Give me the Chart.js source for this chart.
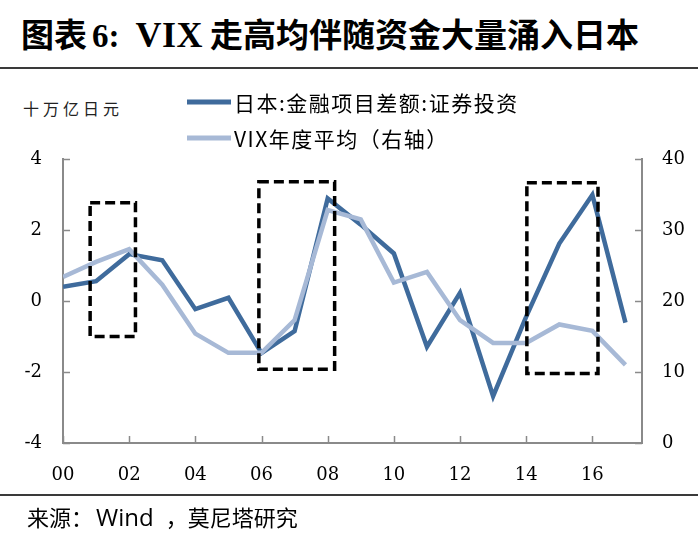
<!DOCTYPE html>
<html>
<head>
<meta charset="utf-8">
<script src="https://cdn.jsdelivr.net/npm/chart.js@4"></script>
<style>
    body { margin: 0; background: #fff; }
    #wrap { position: relative; width: 698px; height: 537px; overflow: hidden; background: #fff; }
    #chart { position: absolute; left: 0; top: 0; }
    .title {
        position: absolute; left: 21px; top: 9px; line-height: 40px;
        font: bold 33px "Noto Sans CJK SC", sans-serif;
        color: #000; white-space: nowrap;
    }
    .title .lat { font-family: "Liberation Serif", serif; }
    .rule { position: absolute; left: 0; width: 698px; height: 2px; background: #3a3a3a; }
    .unit {
        position: absolute; left: 23px; top: 96px;
        font: 16px "Noto Sans CJK SC", sans-serif; letter-spacing: 4px; color: #222;
    }
    .source {
        position: absolute; left: 27px; top: 500px; line-height: 30px;
        font: 22px "Noto Sans CJK SC", sans-serif; color: #000; white-space: nowrap;
    }
    .source .en { font-family: "Open Sans", "Liberation Sans", sans-serif; font-size: 24px; margin-left: 3px; }
</style>
</head>
<body>
<div id="wrap">
    <div class="title">图表<span class="lat" style="margin-left:5px">6:</span><span class="lat" style="margin-left:16px;font-size:36px;letter-spacing:0.5px">VIX</span><span style="margin-left:7px">走高均伴随资金大量涌入日本</span></div>
    <div class="rule" style="top:67px"></div>
    <div class="unit">十万亿日元</div>
    <canvas id="chart" width="698" height="537"></canvas>
    <div class="rule" style="top:494px"></div>
    <div class="source">来源：<span class="en">Wind</span><span style="margin-left:12px">，</span>莫尼塔研究</div>
</div>
<script>
// ================================
// Data
// ================================
const years = [2000, 2001, 2002, 2003, 2004, 2005, 2006, 2007, 2008,
    2009, 2010, 2011, 2012, 2013, 2014, 2015, 2016, 2017];
// 日本:金融项目差额:证券投资 (十万亿日元, left axis)
const japanSecurities = [0.40, 0.56, 1.32, 1.15, -0.23, 0.09, -1.47, -0.85, 2.89,
    2.15, 1.34, -1.29, 0.23, -2.68, -0.44, 1.62, 2.99, -0.61];
// VIX年度平均 (right axis)
const vixAvg = [23.4, 25.5, 27.3, 22.3, 15.4, 12.7, 12.7, 17.3, 32.8,
    31.5, 22.6, 24.1, 17.3, 14.1, 14.1, 16.7, 15.8, 11.0];
const seriesNames = ["日本:金融项目差额:证券投资", "VIX年度平均（右轴）"];
// highlighted periods (years, left-axis units)
const boxFrom = [2000.82, 2005.92, 2014.02];
const boxTo = [2002.19, 2008.21, 2016.17];
const boxTop = [2.77, 3.36, 3.33];
const boxBottom = [-1.0, -1.92, -2.04];

const COLORS = {
    dark: "#3f6b9c",
    light: "#a7b9d6",
    axis: "#8a8a8a",
};

// ================================
// Plugins
// ================================
const innerTicks = {
    id: "innerTicks",
    afterDraw(chart) {
        const { ctx, chartArea } = chart;
        const { x, y, y1 } = chart.scales;
        ctx.save();
        ctx.strokeStyle = COLORS.axis;
        ctx.lineWidth = 1.5;
        ctx.beginPath();
        x.ticks.forEach((t) => {
            const px = Math.round(x.getPixelForValue(t.value)) + 0.5;
            ctx.moveTo(px, chartArea.bottom);
            ctx.lineTo(px, chartArea.bottom - 7);
        });
        y.ticks.forEach((t) => {
            const py = Math.round(y.getPixelForValue(t.value)) + 0.5;
            ctx.moveTo(chartArea.left, py);
            ctx.lineTo(chartArea.left + 7, py);
        });
        y1.ticks.forEach((t) => {
            const py = Math.round(y1.getPixelForValue(t.value)) + 0.5;
            ctx.moveTo(chartArea.right, py);
            ctx.lineTo(chartArea.right - 7, py);
        });
        ctx.stroke();
        ctx.restore();
    },
};

const highlightBoxes = {
    id: "highlightBoxes",
    afterDatasetsDraw(chart) {
        const { ctx } = chart;
        const { x, y } = chart.scales;
        ctx.save();
        ctx.strokeStyle = "#000";
        ctx.lineWidth = 3.5;
        ctx.setLineDash([10, 5]);
        boxFrom.forEach((from, i) => {
            const left = x.getPixelForValue(from);
            const right = x.getPixelForValue(boxTo[i]);
            const top = y.getPixelForValue(boxTop[i]);
            const bottom = y.getPixelForValue(boxBottom[i]);
            ctx.strokeRect(left, top, right - left, bottom - top);
        });
        ctx.restore();
    },
};

const lineLegend = {
    id: "lineLegend",
    afterDraw(chart) {
        const { ctx } = chart;
        ctx.save();
        ctx.font = '21px "Noto Sans CJK SC", sans-serif';
        ctx.letterSpacing = "1.5px";
        ctx.textBaseline = "middle";
        ctx.fillStyle = "#000";
        chart.data.datasets.forEach((ds, i) => {
            const yy = 102 + i * 36;
            ctx.strokeStyle = ds.borderColor;
            ctx.lineWidth = 5;
            ctx.beginPath();
            ctx.moveTo(187, yy);
            ctx.lineTo(231, yy);
            ctx.stroke();
            ctx.fillText(ds.label, 234, yy + 1);
        });
        ctx.restore();
    },
};

// ================================
// Chart
// ================================
const tickFont = { family: '"DejaVu Serif", serif', size: 18 };

new Chart(document.getElementById("chart"), {
    type: "line",
    data: {
        datasets: [
            {
                label: seriesNames[0],
                data: years.map((yr, i) => ({ x: yr, y: japanSecurities[i] })),
                borderColor: COLORS.dark,
                borderWidth: 4.5,
                pointRadius: 0,
                tension: 0,
                yAxisID: "y",
                order: 2,
            },
            {
                label: seriesNames[1],
                data: years.map((yr, i) => ({ x: yr, y: vixAvg[i] })),
                borderColor: COLORS.light,
                borderWidth: 4.5,
                pointRadius: 0,
                tension: 0,
                yAxisID: "y1",
                order: 1,
            },
        ],
    },
    options: {
        responsive: false,
        animation: false,
        devicePixelRatio: 1,
        layout: { padding: { top: 159, left: 0, right: 0, bottom: 0 } },
        plugins: {
            legend: { display: false },
            tooltip: { enabled: false },
        },
        scales: {
            x: {
                type: "linear",
                min: 2000,
                max: 2017.5,
                afterFit: (s) => { s.height = 94; },
                grid: { drawOnChartArea: false, drawTicks: false },
                border: { color: COLORS.axis, width: 2 },
                ticks: {
                    stepSize: 2,
                    includeBounds: false,
                    autoSkip: false,
                    maxRotation: 0,
                    padding: 22,
                    color: "#000",
                    font: tickFont,
                    callback: (v) => (v % 2 === 0 ? String(v).slice(2) : ""),
                },
            },
            y: {
                position: "left",
                min: -4,
                max: 4,
                afterFit: (s) => { s.width = 63; },
                grid: { drawOnChartArea: false, drawTicks: false },
                border: { color: COLORS.axis, width: 2 },
                ticks: { stepSize: 2, padding: 21, color: "#000", font: tickFont },
            },
            y1: {
                position: "right",
                min: 0,
                max: 40,
                afterFit: (s) => { s.width = 56; },
                grid: { drawOnChartArea: false, drawTicks: false },
                border: { color: COLORS.axis, width: 2 },
                ticks: { stepSize: 10, padding: 20, color: "#000", font: tickFont },
            },
        },
    },
    plugins: [innerTicks, highlightBoxes, lineLegend],
});
</script>
</body>
</html>
